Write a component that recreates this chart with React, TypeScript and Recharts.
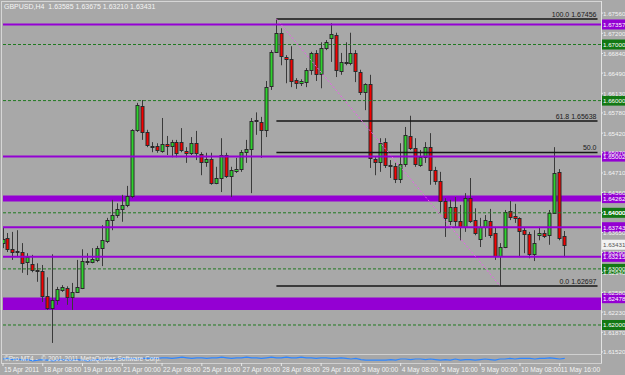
import React from 'react';
import { ComposedChart, Bar, XAxis, YAxis, ReferenceLine, ReferenceArea, LineChart, Line } from 'recharts';

// GBPUSD H4 candles, 15 Apr - 11 May 2011
const OPEN = [
  1.6346, 1.6355, 1.6335, 1.6332, 1.6330, 1.6312, 1.6309, 1.6298, 1.6296, 1.6252,
  1.6230, 1.6244, 1.6262, 1.6266, 1.6250, 1.6259, 1.6266, 1.6314, 1.6312, 1.6316,
  1.6337, 1.6350, 1.6387, 1.6396, 1.6407, 1.6414, 1.6430, 1.6548, 1.6590, 1.6544,
  1.6519, 1.6519, 1.6510, 1.6523, 1.6519, 1.6526, 1.6526, 1.6510, 1.6507, 1.6524,
  1.6505, 1.6491, 1.6496, 1.6453, 1.6462, 1.6503, 1.6466, 1.6474, 1.6478, 1.6508,
  1.6514, 1.6563, 1.6562, 1.6548, 1.6626, 1.6687, 1.6721, 1.6678, 1.6674, 1.6637,
  1.6631, 1.6633, 1.6655, 1.6685, 1.6647, 1.6694, 1.6712, 1.6717, 1.6653, 1.6669,
  1.6667, 1.6685, 1.6651, 1.6615, 1.6630, 1.6496, 1.6491, 1.6526, 1.6485, 1.6483,
  1.6460, 1.6487, 1.6537, 1.6515, 1.6485, 1.6499, 1.6517, 1.6476, 1.6457, 1.6421,
  1.6385, 1.6410, 1.6385, 1.6375, 1.6426, 1.6387, 1.6353, 1.6375, 1.6385, 1.6364,
  1.6323, 1.6339, 1.6403, 1.6394, 1.6391, 1.6369, 1.6362, 1.6326, 1.6360, 1.6364,
  1.6360, 1.6400, 1.6473, 1.63585,
];
const HIGH = [
  1.6373, 1.6364, 1.6366, 1.6369, 1.6346, 1.6328, 1.6325, 1.6310, 1.6307, 1.6285,
  1.6326, 1.6268, 1.6271, 1.6269, 1.6275, 1.6316, 1.6335, 1.6328, 1.6337, 1.6341,
  1.6378, 1.6391, 1.6423, 1.6417, 1.6432, 1.6448, 1.6549, 1.6596, 1.6601, 1.6548,
  1.6526, 1.6524, 1.6569, 1.6537, 1.6530, 1.6530, 1.6551, 1.6517, 1.6535, 1.6546,
  1.6508, 1.6507, 1.6507, 1.6482, 1.6533, 1.6507, 1.6482, 1.6498, 1.6512, 1.6530,
  1.6569, 1.6579, 1.6571, 1.6635, 1.6690, 1.67456, 1.6729, 1.6681, 1.6697, 1.6640,
  1.6638, 1.6658, 1.6687, 1.6690, 1.6704, 1.6708, 1.6738, 1.6721, 1.6685, 1.6704,
  1.6721, 1.6690, 1.6655, 1.6631, 1.6646, 1.6499, 1.6533, 1.6533, 1.6494, 1.6489,
  1.6524, 1.6553, 1.6573, 1.6533, 1.6512, 1.6526, 1.6542, 1.6482, 1.6473, 1.6426,
  1.6423, 1.6428, 1.6414, 1.6435, 1.6462, 1.6408, 1.6391, 1.6396, 1.6407, 1.6373,
  1.6346, 1.6405, 1.6421, 1.6416, 1.6392, 1.6373, 1.6366, 1.6369, 1.6375, 1.6369,
  1.6405, 1.6517, 1.6478, 1.63675,
];
const LOW = [
  1.6337, 1.6330, 1.6316, 1.6321, 1.6293, 1.6289, 1.6294, 1.6277, 1.6241, 1.6227,
  1.6168, 1.6236, 1.6259, 1.6236, 1.6227, 1.6257, 1.6264, 1.6307, 1.6310, 1.6312,
  1.6305, 1.6346, 1.6369, 1.6391, 1.6384, 1.6410, 1.6426, 1.6544, 1.6530, 1.6517,
  1.6508, 1.6507, 1.6507, 1.6503, 1.6499, 1.6499, 1.6508, 1.6489, 1.6503, 1.6494,
  1.6467, 1.6482, 1.6450, 1.6451, 1.6437, 1.6462, 1.6428, 1.6471, 1.6473, 1.6489,
  1.6435, 1.6539, 1.6498, 1.6535, 1.6619, 1.6685, 1.6663, 1.6631, 1.6624, 1.6621,
  1.6626, 1.6624, 1.6646, 1.6635, 1.6622, 1.6690, 1.6669, 1.6642, 1.6646, 1.6663,
  1.6663, 1.6633, 1.6610, 1.6583, 1.6480, 1.6467, 1.6473, 1.6480, 1.6462, 1.6453,
  1.6453, 1.6482, 1.6512, 1.6482, 1.6482, 1.6489, 1.6450, 1.6450, 1.6401, 1.6357,
  1.6378, 1.6375, 1.6351, 1.6366, 1.6382, 1.6360, 1.6339, 1.6357, 1.6355, 1.6316,
  1.62697, 1.6337, 1.6387, 1.6382, 1.6321, 1.6328, 1.6319, 1.6314, 1.6351, 1.6355,
  1.6343, 1.6399, 1.6351, 1.6321,
];
const CLOSE = [
  1.6353, 1.6335, 1.6330, 1.6330, 1.6310, 1.6321, 1.6298, 1.6296, 1.6252, 1.6230,
  1.6244, 1.6264, 1.6268, 1.6250, 1.6259, 1.6268, 1.6314, 1.6312, 1.6318, 1.6337,
  1.6351, 1.6387, 1.6396, 1.6407, 1.6414, 1.6430, 1.6548, 1.6592, 1.6544, 1.6521,
  1.6517, 1.6512, 1.6523, 1.6519, 1.6526, 1.6507, 1.6512, 1.6507, 1.6524, 1.6507,
  1.6491, 1.6496, 1.6453, 1.6462, 1.6503, 1.6466, 1.6476, 1.6478, 1.6508, 1.6514,
  1.6563, 1.6565, 1.6548, 1.6624, 1.6687, 1.6721, 1.6680, 1.6674, 1.6635, 1.6631,
  1.6635, 1.6655, 1.6685, 1.6647, 1.6694, 1.6704, 1.6719, 1.6655, 1.6669, 1.6667,
  1.6685, 1.6653, 1.6615, 1.6630, 1.6498, 1.6491, 1.6524, 1.6485, 1.6483, 1.6460,
  1.6487, 1.6539, 1.6515, 1.6487, 1.6499, 1.6517, 1.6476, 1.6457, 1.6421, 1.6391,
  1.6410, 1.6385, 1.6375, 1.6426, 1.6385, 1.6364, 1.6375, 1.6387, 1.6360, 1.6323,
  1.6339, 1.6401, 1.6392, 1.6391, 1.6368, 1.6362, 1.6326, 1.6346, 1.6364, 1.6358,
  1.6400, 1.6471, 1.6355, 1.63431,
];

// small oscillator in the sub window
const IND = [
  5, 6, 4, 5,
  3, 4, 2, 3, 4, 3, 2, 3, 4, 3, 3, 4, 3, 2, 3, 4, 3, 5, 4, 5, 6, 5, 6, 5, 6, 6,
  7, 6, 7, 7, 6, 7, 8, 7, 6, 7, 7, 6, 7, 7, 8, 7, 6, 7, 7, 8, 7, 7, 6, 7, 8, 7, 7, 8, 7, 7,
  8, 7, 7, 6, 7, 7, 6, 6, 7, 6, 5, 6,
  4, 3, 3, 3, 3, 3, 4, 3,
  5, 5, 4, 5, 5, 4, 5, 4,
  3, 4, 3, 5, 3, 4, 4, 3, 4, 5, 4, 3,
  5, 5, 6, 5, 6, 6, 6, 5, 6, 6, 7, 6, 5, 6,
];

const PRICE_TICKS = [
  1.6756, 1.672, 1.6684, 1.6649, 1.6613, 1.6578, 1.6542, 1.6507, 1.6471,
  1.6436, 1.64, 1.6365, 1.6329, 1.6294, 1.6258, 1.6223, 1.6187, 1.6152,
];
const TIME_LABELS = [
  '15 Apr 2011', '18 Apr 08:00', '19 Apr 16:00', '21 Apr 00:00', '22 Apr 08:00',
  '25 Apr 16:00', '27 Apr 00:00', '28 Apr 08:00', '29 Apr 16:00', '3 May 00:00',
  '4 May 08:00', '5 May 16:00', '9 May 00:00', '10 May 08:00', '11 May 16:00',
];
const TIME_TICKS = TIME_LABELS.map((_, k) => k * 8);

const PURPLE_LEVELS = [1.67357, 1.65002, 1.63743, 1.63215];
const GREEN_LEVELS = [1.67, 1.66, 1.64, 1.63, 1.62];
const BAND_LOW = [1.64201, 1.62266];
const BAND_HIGH = [1.64308, 1.6249];
const BAND_TAG = [1.64262, 1.62478];
const FIB_LEVELS = [1.67456, 1.65638, 1.650765, 1.62697];
const FIB_TEXT = ['100.0  1.67456', '61.8  1.65638', '50.0', '0.0  1.62697'];
const FIB_START = 55;
const FIB_END = 119.6;
const SWING_LOW_BAR = 100;
const LAST_PRICE = 1.63431;

const data = OPEN.map((o, i) => ({ i, open: o, high: HIGH[i], low: LOW[i], close: CLOSE[i], ind: IND[i] }));

const FONT = '"Liberation Sans", Arial, sans-serif';
const PURPLE = '#9400d3';
const GREEN_TAG = '#137813';
const X_DOMAIN: [number, number] = [0, 120.3];

const Candle = (props: any) => {
  const { x, y, width, height, payload } = props;
  if (x == null || y == null || !payload) return null;
  const top = Math.min(y, y + height);
  const bot = Math.max(y, y + height);
  const { open, close, high, low } = payload;
  const span = high - low || 1;
  const py = (p: number) => top + ((high - p) / span) * (bot - top);
  const cx = Math.round(x + width / 2) + 0.5;
  const up = close >= open;
  const bTop = Math.round(py(Math.max(open, close))) + 0.5;
  const bBot = Math.round(py(Math.min(open, close))) + 0.5;
  return (
    <g>
      <line x1={cx} x2={cx} y1={top} y2={bot} stroke="#3a3a3a" strokeWidth={1} />
      <rect
        x={cx - 1.5}
        y={bTop}
        width={3}
        height={Math.max(bBot - bTop, 1)}
        fill={up ? '#2ed22e' : '#f40000'}
        stroke="#2a2a2a"
        strokeWidth={1}
      />
    </g>
  );
};

const tag = (text: string, bg: string, fg: string) => (p: any) => {
  const vb = p.viewBox || {};
  const yy = vb.y;
  return (
    <g>
      <rect x={602} y={yy - 5} width={23} height={10} fill={bg} />
      <text x={603} y={yy + 2.5} fontSize={6.2} fontFamily={FONT} fill={fg}>{text}</text>
    </g>
  );
};

const fibLabel = (text: string) => (p: any) => {
  const vb = p.viewBox || {};
  return (
    <text x={vb.x + vb.width - 1} y={vb.y - 2} fontSize={7} fontFamily={FONT} fill="#1a1a1a" textAnchor="end">
      {text}
    </text>
  );
};

const PriceTick = (props: any) => {
  const { y, payload } = props;
  return (
    <g>
      <line x1={601} x2={603} y1={y} y2={y} stroke="#e8e8e8" />
      <text x={603} y={y + 2.5} fontSize={6.2} fontFamily={FONT} fill="#f4f4f4">
        {payload.value.toFixed(5)}
      </text>
    </g>
  );
};

const TimeTick = (props: any) => {
  const { x, payload } = props;
  const k = TIME_TICKS.indexOf(payload.value);
  return (
    <g>
      <line x1={x} x2={x} y1={363} y2={366} stroke="#e8e8e8" />
      <text x={x + 1} y={372} fontSize={6.6} fontFamily={FONT} fill="#f4f4f4">
        {TIME_LABELS[k]}
      </text>
    </g>
  );
};

const hline = (top: number, left: number, w: number, c: string) => (
  <div style={{ position: 'absolute', top, left, width: w, height: 1, background: c }} />
);
const vline = (left: number, top: number, h: number, c: string) => (
  <div style={{ position: 'absolute', top, left, width: 1, height: h, background: c }} />
);

export default function App() {
  return (
    <div style={{ position: 'absolute', left: 0, top: 0, width: 625, height: 375, background: '#a8a8a8', overflow: 'hidden', fontFamily: FONT }}>
      {hline(1, 1, 601, '#d6d6d6')}
      {vline(1, 1, 363, '#d6d6d6')}
      {vline(601, 1, 363, '#e2e2e2')}
      {hline(354, 1, 601, '#d0d0d0')}
      {hline(363, 1, 601, '#d0d0d0')}

      <div style={{ position: 'absolute', left: 0, top: 0 }}>
        <ComposedChart width={625} height={375} data={data} margin={{ top: 3, right: 0, bottom: 0, left: 3 }}>
          <XAxis
            dataKey="i"
            type="number"
            domain={X_DOMAIN}
            allowDataOverflow
            ticks={TIME_TICKS}
            interval={0}
            height={21}
            axisLine={false}
            tickLine={false}
            tick={<TimeTick />}
          />
          <YAxis
            orientation="right"
            type="number"
            domain={[1.61483, 1.6774]}
            allowDataOverflow
            ticks={PRICE_TICKS}
            interval={0}
            width={24}
            axisLine={false}
            tickLine={false}
            tick={<PriceTick />}
          />

          {GREEN_LEVELS.map((v) => (
            <ReferenceLine key={'g' + v} y={v} stroke="#1f7a1f" strokeDasharray="3 2" ifOverflow="visible" />
          ))}
          {BAND_LOW.map((v, k) => (
            <ReferenceArea key={'b' + k} y1={v} y2={BAND_HIGH[k]} fill={PURPLE} fillOpacity={1} stroke="none" ifOverflow="visible" />
          ))}
          {PURPLE_LEVELS.map((v) => (
            <ReferenceLine key={'p' + v} y={v} stroke={PURPLE} strokeWidth={2} ifOverflow="visible" />
          ))}
          {FIB_LEVELS.map((v, k) => (
            <ReferenceLine
              key={'f' + k}
              segment={[{ x: FIB_START, y: v }, { x: FIB_END, y: v }]}
              stroke="#161616"
              strokeWidth={1.5}
              ifOverflow="visible"
              label={fibLabel(FIB_TEXT[k])}
            />
          ))}
          <ReferenceLine
            segment={[{ x: FIB_START, y: FIB_LEVELS[0] }, { x: SWING_LOW_BAR, y: FIB_LEVELS[3] }]}
            stroke="#ee5cee"
            strokeDasharray="2 2"
            ifOverflow="visible"
          />

          <Bar dataKey={(d: any) => [d.low, d.high]} shape={Candle} barSize={4} isAnimationActive={false} />

          {PURPLE_LEVELS.map((v) => (
            <ReferenceLine key={'pt' + v} y={v} stroke="none" ifOverflow="visible" label={tag(v.toFixed(5), PURPLE, '#ffffff')} />
          ))}
          {BAND_TAG.map((v) => (
            <ReferenceLine key={'bt' + v} y={v} stroke="none" ifOverflow="visible" label={tag(v.toFixed(5), PURPLE, '#ffffff')} />
          ))}
          {GREEN_LEVELS.map((v) => (
            <ReferenceLine key={'gt' + v} y={v} stroke="none" ifOverflow="visible" label={tag(v.toFixed(5), GREEN_TAG, '#ffffff')} />
          ))}
          <ReferenceLine y={LAST_PRICE} stroke="none" ifOverflow="visible" label={tag(LAST_PRICE.toFixed(5), '#f2f2f2', '#555555')} />
        </ComposedChart>
      </div>

      <div style={{ position: 'absolute', left: 0, top: 355 }}>
        <LineChart width={601} height={8} data={data} margin={{ top: 1, right: 0, bottom: 1, left: 3 }}>
          <XAxis dataKey="i" type="number" domain={X_DOMAIN} hide />
          <YAxis domain={[0, 10]} hide />
          <Line dataKey="ind" stroke="#2f86ff" strokeWidth={1.2} dot={false} isAnimationActive={false} />
        </LineChart>
      </div>

      <div style={{ position: 'absolute', left: 4, top: 2, fontSize: 7, color: '#f4f4f4', whiteSpace: 'pre', lineHeight: '9px' }}>
        {'GBPUSD,H4  1.63585 1.63675 1.63210 1.63431'}
      </div>
      <div style={{ position: 'absolute', left: 4, top: 355, fontSize: 6.5, color: '#f0f0f0', whiteSpace: 'pre', lineHeight: '8px' }}>
        {'©Pro MT4 -  © 2001-2011 MetaQuotes Software Corp.'}
      </div>
    </div>
  );
}
